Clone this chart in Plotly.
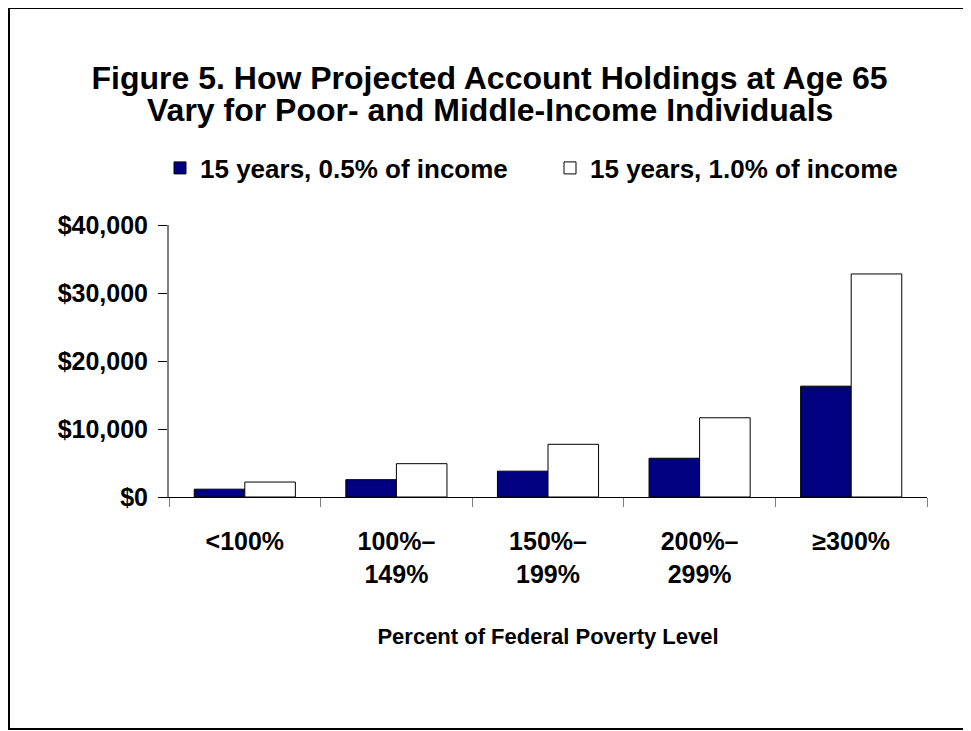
import plotly.graph_objects as go

categories = ["<100%", "100%–<br>149%", "150%–<br>199%", "200%–<br>299%", "≥300%"]
half_pct = [1150, 2550, 3800, 5700, 16300]
one_pct = [2200, 4900, 7750, 11650, 32800]

y_ticks = [0, 10000, 20000, 30000, 40000]
y_tick_labels = ["&#36;0", "&#36;10,000", "&#36;20,000", "&#36;30,000", "&#36;40,000"]

title_line1 = "Figure 5. How Projected Account Holdings at Age 65"
title_line2 = "Vary for Poor- and Middle-Income Individuals"

FONT = "Liberation Sans, Arial, sans-serif"

# page body adds an 8px offset, so the figure is laid out 8px smaller
W, H = 963, 723
L, R, T, B = 161, 44, 217, 234
pw, ph = W - L - R, H - T - B


def px_x(x):
    return (x - L) / pw


def px_y(y):
    return (H - B - y) / ph


fig = go.Figure()
fig.add_trace(go.Bar(
    x=categories, y=half_pct, name="15 years, 0.5% of income",
    marker=dict(color="#000080", line=dict(color="black", width=1)),
    legendwidth=345,
))
fig.add_trace(go.Bar(
    x=categories, y=one_pct, name="15 years, 1.0% of income",
    marker=dict(color="white", line=dict(color="black", width=1)),
    legendwidth=310,
))

# outer frame around the whole figure
fig.add_shape(
    type="rect", xref="paper", yref="paper",
    x0=px_x(1), x1=px_x(960), y0=px_y(721), y1=px_y(0),
    line=dict(color="black", width=2), layer="below",
)

fig.add_annotation(
    text=title_line2, xref="paper", yref="paper",
    x=px_x(W / 2), y=px_y(102), xanchor="center", yanchor="middle",
    showarrow=False, font=dict(size=32, weight="bold"),
)

fig.update_layout(
    width=W, height=H,
    margin=dict(l=L, r=R, t=T, b=B),
    paper_bgcolor="white", plot_bgcolor="white",
    font=dict(family=FONT, color="black", size=25, weight="bold"),
    title=dict(
        text=title_line1,
        x=0.5, xanchor="center", y=1 - 70 / H, yanchor="middle",
        font=dict(size=32, weight="bold"),
    ),
    barmode="group", bargap=0.333, bargroupgap=0,
    showlegend=True,
    legend=dict(
        orientation="h", x=px_x(L - 9), xanchor="left", y=px_y(160), yanchor="middle",
        font=dict(size=26, weight="bold"), itemwidth=30,
        bgcolor="rgba(0,0,0,0)",
    ),
    xaxis=dict(
        showline=True, linecolor="black", linewidth=1,
        ticks="outside", tickson="boundaries", ticklen=9, tickcolor="#808080",
        tickfont=dict(size=25, weight="bold"), ticklabelstandoff=22,
        showgrid=False,
        title=dict(text="Percent of Federal Poverty Level",
                   font=dict(size=22, weight="bold"), standoff=42),
    ),
    yaxis=dict(
        range=[0, 40000], tickmode="array",
        tickvals=y_ticks, ticktext=y_tick_labels,
        showline=True, linecolor="#808080", linewidth=2,
        ticks="outside", ticklen=9, tickcolor="black",
        tickfont=dict(size=25, weight="bold"), ticklabelstandoff=5,
        showgrid=False, zeroline=False,
    ),
)

fig.write_html("out.html")
